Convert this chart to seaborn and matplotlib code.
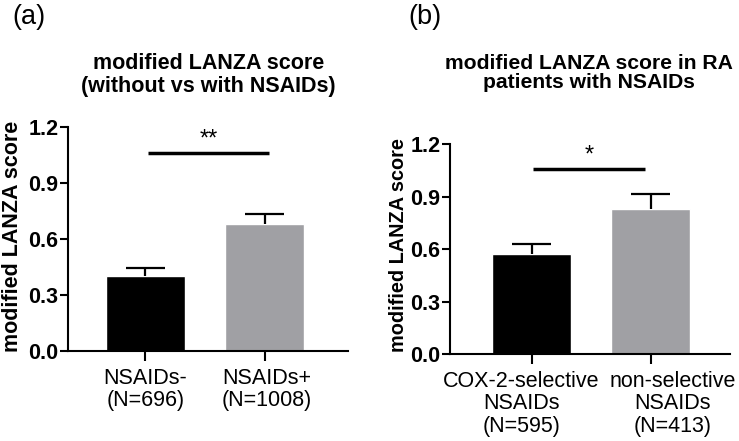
# %%
# ===== Importing Libraries =====

import numpy as np
import pandas as pd

import matplotlib
matplotlib.use('Agg')
import matplotlib.pyplot as plt
import matplotlib.transforms as mtransforms
import seaborn as sns; sns.set_theme(style='ticks')

plt.rcParams['font.family'] = ['Liberation Sans', 'DejaVu Sans']
for key in ['text.color', 'axes.labelcolor', 'xtick.color', 'ytick.color', 'axes.edgecolor']:
    plt.rcParams[key] = 'black'

# %%
# ===== Data =====

groups_a = ['NSAIDs-\n(N=696)', 'NSAIDs+\n(N=1008)']
means_a = [0.40, 0.68]
sem_a = [0.045, 0.052]

groups_b = ['COX-2-selective\nNSAIDs\n(N=595)', 'non-selective\nNSAIDs\n(N=413)']
means_b = [0.571, 0.829]
sem_b = [0.058, 0.085]

bar_colors = ['#000000', '#a0a0a4']
yticks = [0.0, 0.3, 0.6, 0.9, 1.2]

# %%
# ===== Plotting =====

def plot_panel(ax, groups, means, sem, sig, sig_y, sig_span, xlim, label_xy, label_shift, label_size):
    df = pd.DataFrame({'group': groups, 'score': means})
    sns.barplot(data=df, x='group', y='score', hue='group', palette=bar_colors,
                width=0.66, legend=False, ax=ax, saturation=1)

    # one-sided error bars (upper only)
    x = np.arange(len(groups))
    tops = np.array(means) + np.array(sem)
    ax.vlines(x, means, tops, color='black', lw=1.6)
    ax.hlines(tops, x - 0.165, x + 0.165, color='black', lw=1.6)

    # significance bracket
    ax.plot(sig_span, [sig_y, sig_y], color='black', lw=2.5, solid_capstyle='butt')
    ax.text(np.mean(sig_span), sig_y + 0.015, sig, ha='center', va='bottom', fontsize=17)

    ax.set_ylim(0, 1.2)
    ax.set_xlim(*xlim)
    ax.set_yticks(yticks)
    ax.set_yticklabels([f'{t:.1f}' for t in yticks], fontsize=15.5, fontweight='bold')
    ax.tick_params(axis='x', labelsize=15.5, width=1.5, length=7, pad=5)
    ax.tick_params(axis='y', width=1.5, length=6, pad=1)
    fig = ax.figure
    for lab, dx in zip(ax.get_xticklabels(), label_shift):
        lab.set_linespacing(1.1)
        lab.set_transform(lab.get_transform() +
                          mtransforms.ScaledTranslation(dx / 100, 0, fig.dpi_scale_trans))
    ax.set_xlabel('')
    ax.set_ylabel('modified LANZA score', fontsize=label_size, fontweight='bold')
    ax.yaxis.set_label_coords(*label_xy)
    sns.despine(ax=ax)
    for s in ['left', 'bottom']:
        ax.spines[s].set_linewidth(1.5)


fig = plt.figure(figsize=(7.39, 4.41), dpi=100)
ax_a = fig.add_axes([0.092, 0.204, 0.379, 0.508])
ax_b = fig.add_axes([0.609, 0.197, 0.379, 0.476])

plot_panel(ax_a, groups_a, means_a, sem_a, '**', 1.06, [0.02, 1.04], (-0.65, 1.70),
           (-0.16, 0.513), [0, 2], 15.5)
plot_panel(ax_b, groups_b, means_b, sem_b, '*', 1.057, [0.01, 0.95], (-0.685, 1.668),
           (-0.15, 0.52), [-10, 22], 14.3)

fig.text(0.2825, 0.83, 'modified LANZA score\n(without vs with NSAIDs)', ha='center', va='center',
         fontsize=15.5, fontweight='bold', linespacing=1.08)
fig.text(0.797, 0.835, 'modified LANZA score in RA\npatients with NSAIDs', ha='center', va='center',
         fontsize=15.2, fontweight='bold', linespacing=1.0)

fig.text(0.017, 0.99, '(a)', fontsize=19.5, va='top')
fig.text(0.553, 0.99, '(b)', fontsize=19.5, va='top')

fig.savefig('out.png', dpi=100)
